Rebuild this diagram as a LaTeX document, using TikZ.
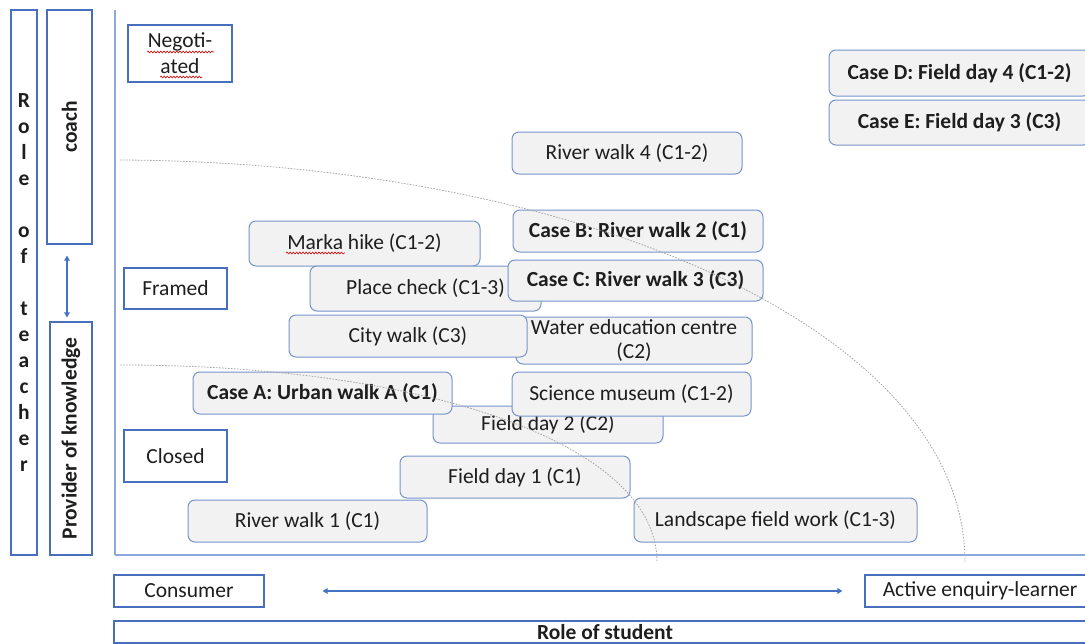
\documentclass[tikz,border=0pt]{standalone}
\usepackage{fontspec}
\setmainfont{Carlito}
\usetikzlibrary{arrows.meta,decorations.pathmorphing}
\definecolor{axisblue}{RGB}{140,168,220}
\definecolor{plainblue}{RGB}{72,110,190}
\definecolor{boxblue}{RGB}{118,148,204}
\definecolor{boxfill}{RGB}{242,242,242}
\definecolor{txt}{RGB}{30,30,30}
\definecolor{curvegray}{RGB}{165,165,165}
\definecolor{arrowblue}{RGB}{68,114,196}
\tikzset{
  every node/.style={text=txt, font=\fontsize{21.5}{24}\selectfont},
  plainbox/.style={draw=plainblue, line width=1.1pt, fill=white, inner sep=0pt, align=center},
  rbox/.style={draw=boxblue, line width=1pt, fill=boxfill, rounded corners=7pt, inner sep=0pt, align=center},
  boldtxt/.style={font=\bfseries\fontsize{21.5}{24}\selectfont},
  zone/.style={draw=curvegray, line width=0.8pt, dash pattern=on 1.6pt off 1.4pt},
  spell/.style={draw=red!85!black, line width=0.6pt, decorate, decoration={snake, amplitude=0.9pt, segment length=3.2pt}},
  twoway/.style={draw=arrowblue, line width=1.7pt, {Triangle[length=5pt,width=5.5pt]}-{Triangle[length=5pt,width=5.5pt]}}
}
\begin{document}
\begin{tikzpicture}[x=1pt,y=-1pt]
\useasboundingbox (0,0) rectangle (1085,643);
\clip (0,0) rectangle (1085,643);

% left labels
\node[plainbox, minimum width=26pt, minimum height=545pt,
  font=\bfseries\fontsize{21.5}{26}\selectfont] (rolet) at (24,282.5)
  {R\\o\\l\\e\\[26pt]o\\f\\[26pt]t\\e\\a\\c\\h\\e\\r};
\node[plainbox, boldtxt, rotate=90, minimum width=234pt, minimum height=45pt] (coach) at (69.5,127) {coach};
\node[plainbox, boldtxt, rotate=90, minimum width=233pt, minimum height=42pt] (prov) at (71,438.5) {Provider of knowledge};
\draw[twoway] ([xshift=-2.5pt,yshift=-11pt]coach.west) -- ([xshift=-4pt,yshift=4pt]prov.east);

% axes
\draw[draw=axisblue, line width=1.2pt] (115,10) -- (115,555);
\draw[draw=axisblue, line width=1.8pt] (115,555) -- (1085,555);

% level labels
\node[plainbox, minimum width=104pt, minimum height=57pt, font=\fontsize{21.5}{26}\selectfont] (neg) at (180,53.5) {Negoti-\\ated};
\node[plainbox, minimum width=103pt, minimum height=41pt] (framed) at (175.5,288.5) {Framed};
\node[plainbox, minimum width=103pt, minimum height=52pt] (closed) at (175.5,456) {Closed};

% bottom labels
\node[plainbox, minimum width=150pt, minimum height=32pt] (consumer) at (189,591) {Consumer};
\node[plainbox, minimum width=230pt, minimum height=32pt] (active) at (980,591) {Active enquiry-learner};
\draw[twoway] ([xshift=58pt]consumer.east) -- ([xshift=-22pt]active.west);
\node[plainbox, boldtxt, minimum width=982pt, minimum height=22pt] (student) at (605,632) {Role of student};

% activity boxes
\node[rbox, boldtxt, minimum width=261pt, minimum height=46pt] (caseD) at (959.5,73) {Case D: Field day 4 (C1-2)};
\node[rbox, boldtxt, minimum width=261pt, minimum height=45pt] (caseE) at (959.5,122.5) {Case E: Field day 3 (C3)};
\node[rbox, minimum width=230pt, minimum height=42pt] (rw4) at (627,153) {River walk 4 (C1-2)};
\node[rbox, boldtxt, minimum width=250pt, minimum height=42pt] (caseB) at (638,231) {Case B: River walk 2 (C1)};
\node[rbox, minimum width=231pt, minimum height=45pt] (marka) at (364.5,243.5) {Marka hike (C1-2)};
\node[rbox, minimum width=231pt, minimum height=45pt] (place) at (425.5,288.5) {Place check (C1-3)};
\node[rbox, boldtxt, minimum width=255pt, minimum height=41pt] (caseC) at (635.5,280.5) {Case C: River walk 3 (C3)};
\node[rbox, minimum width=236pt, minimum height=47pt] (water) at (634,340.5) {Water education centre\\(C2)};
\node[rbox, minimum width=238pt, minimum height=42pt] (city) at (408,336) {City walk (C3)};
\node[rbox, minimum width=230pt, minimum height=37pt] (fd2) at (548,424.5) {Field day 2 (C2)};
\node[rbox, boldtxt, minimum width=259pt, minimum height=42pt] (caseA) at (322.5,393) {Case A: Urban walk A (C1)};
\node[rbox, minimum width=239pt, minimum height=44pt] (sci) at (631.5,394) {Science museum (C1-2)};
\node[rbox, minimum width=230pt, minimum height=42pt] (fd1) at (515,477) {Field day 1 (C1)};
\node[rbox, minimum width=239pt, minimum height=42pt] (rw1) at (307.5,521) {River walk 1 (C1)};
\node[rbox, minimum width=283pt, minimum height=44pt] (land) at (775.5,520) {Landscape field work (C1-3)};

% spelling marks
\draw[spell] (147,52) -- (214,52);
\draw[spell] (160,77) -- (202,77);
\draw[spell] (286,253) -- (345,253);

% zone boundaries
\draw[zone] (120,160) .. controls (580,162) and (965,330) .. (965,562);
\draw[zone] (120,365) .. controls (430,365) and (657,445) .. (657,562);
\end{tikzpicture}
\end{document}
